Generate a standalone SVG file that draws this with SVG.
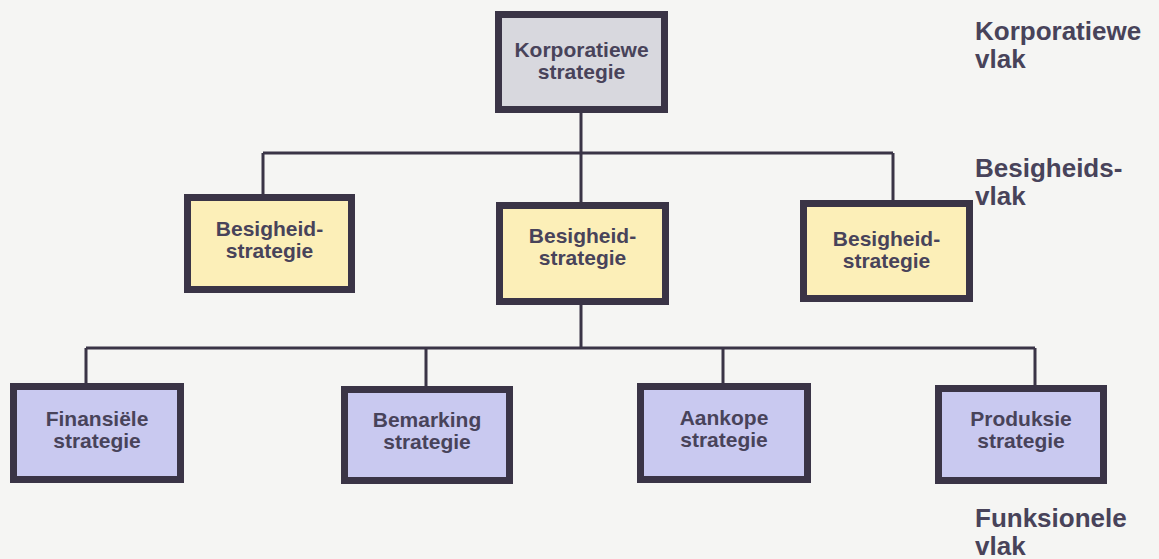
<svg xmlns="http://www.w3.org/2000/svg" width="1159" height="559" viewBox="0 0 1159 559">
<style>
.box{stroke:#3a3446;stroke-width:7}
.corp{fill:#d8d8de}
.biz{fill:#fcefb8}
.fun{fill:#c9c9f0}
.t{font-family:"Liberation Sans",Arial,sans-serif;font-weight:bold;font-size:21px;fill:#48435a;text-anchor:middle}
.lbl{font-family:"Liberation Sans",Arial,sans-serif;font-weight:bold;font-size:26px;fill:#48435a}
.c{stroke:#3a3446;stroke-width:3;fill:none}
</style>
<rect width="1159" height="559" fill="#f5f5f3"/>
<g id="connectors">
<path class="c" d="M581 113V153M263 153H893M263 153V194M893 153V200M581 153V202"/>
<path class="c" d="M581 305V348M86 348H1035M86 348V383M426 348V386M723 348V383M1035 348V385"/>
</g>
<g id="corp">
<rect class="box corp" x="498.5" y="14.5" width="166" height="95"/>
<text class="t" x="581.5" y="57">Korporatiewe</text>
<text class="t" x="581.5" y="79">strategie</text>
</g>
<g id="biz1">
<rect class="box biz" x="187.5" y="197.5" width="164" height="92"/>
<text class="t" x="269.5" y="236">Besigheid-</text>
<text class="t" x="269.5" y="258">strategie</text>
</g>
<g id="biz2">
<rect class="box biz" x="499.5" y="205.5" width="166" height="96"/>
<text class="t" x="582.5" y="243">Besigheid-</text>
<text class="t" x="582.5" y="265">strategie</text>
</g>
<g id="biz3">
<rect class="box biz" x="803.5" y="203.5" width="166" height="95"/>
<text class="t" x="886.5" y="246">Besigheid-</text>
<text class="t" x="886.5" y="268">strategie</text>
</g>
<g id="fin">
<rect class="box fun" x="13.5" y="386.5" width="167" height="93"/>
<text class="t" x="97" y="426">Finansiële</text>
<text class="t" x="97" y="448">strategie</text>
</g>
<g id="bem">
<rect class="box fun" x="344.5" y="389.5" width="165" height="91"/>
<text class="t" x="427" y="427">Bemarking</text>
<text class="t" x="427" y="449">strategie</text>
</g>
<g id="aan">
<rect class="box fun" x="640.5" y="386.5" width="167" height="93"/>
<text class="t" x="724" y="425">Aankope</text>
<text class="t" x="724" y="447">strategie</text>
</g>
<g id="pro">
<rect class="box fun" x="938.5" y="388.5" width="165" height="92"/>
<text class="t" x="1021" y="426">Produksie</text>
<text class="t" x="1021" y="448">strategie</text>
</g>
<g id="labels">
<text class="lbl" x="975" y="40">Korporatiewe</text>
<text class="lbl" x="975" y="68">vlak</text>
<text class="lbl" x="975" y="177">Besigheids-</text>
<text class="lbl" x="975" y="205">vlak</text>
<text class="lbl" x="975" y="527">Funksionele</text>
<text class="lbl" x="975" y="555">vlak</text>
</g>
</svg>
